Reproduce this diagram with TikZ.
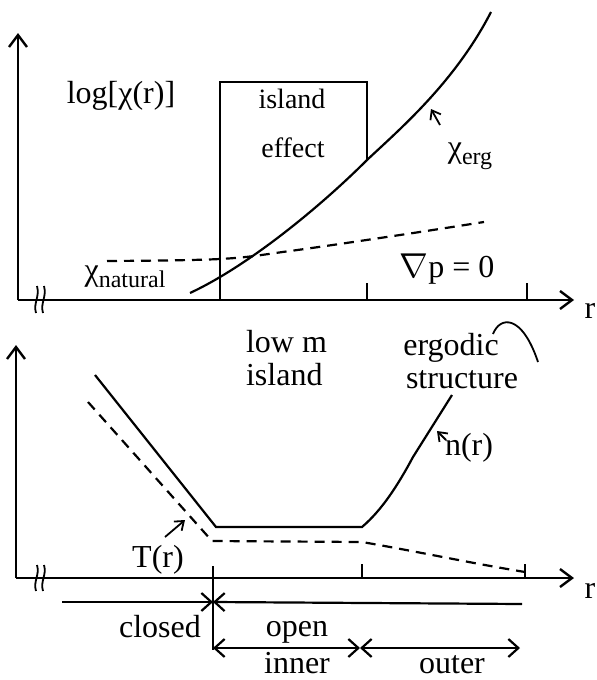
\documentclass[tikz,border=0pt]{standalone}
\usepackage{fontspec}
\setmainfont{Liberation Serif}
\usetikzlibrary{arrows.meta}
\newcommand\lsub[1]{\raisebox{-0.5ex}{\fontsize{12}{14}\selectfont #1}}
\begin{document}
\begin{tikzpicture}[x=0.5pt,y=-0.5pt,line width=1.1pt,
  axis/.style={line width=1.2pt,-{Straight Barb[length=6pt,width=9pt]}},
  curve/.style={line width=1.1pt},
  dashcurve/.style={line width=1.1pt,dash pattern=on 5pt off 3.5pt},
  pointer/.style={line width=0.9pt,-{Straight Barb[length=4pt,width=6pt]}},
  barb/.style={line width=1.1pt,arrows={-Straight Barb[length=5pt,width=9pt]}},
  every node/.style={font=\fontsize{16}{19}\selectfont,inner sep=0pt}]
 \useasboundingbox (0,0) rectangle (596,680);
 % upper panel: chi(r)
 \coordinate (o1) at (18,300);
 \draw[axis] (o1) -- (18,33);
 \draw[axis] (o1) -- (574,300);
 \foreach \x in {36,43} \draw[line width=0.9pt] (\x,313) .. controls (\x-3,303) and (\x+4,297) .. (\x+1,286);
 \foreach \x in {367,527} \draw (\x,300) -- (\x,283);
 \draw[curve] (220,300) -- (220,82) -- (367,82) -- (367,160);
 \draw[curve] (190,293) .. controls (250,265) and (322,205) .. (367,160)
   .. controls (400,129) and (455,82) .. (491,12);
 \draw[dashcurve] plot[smooth,tension=0.6] coordinates {(107,261) (220,259) (290,251) (400,235) (484,222)};
 \node[anchor=base] (loglab) at (121,103) {log[χ(r)]};
 \node[anchor=base,font=\fontsize{14}{16}\selectfont] (isl) at (292,108) {island};
 \node[anchor=base,font=\fontsize{14}{16}\selectfont] (eff) at (293,157) {effect};
 \node[anchor=base] (erglab) at (470,157) {χ\lsub{erg}};
 \node[anchor=base] (natlab) at (125,280) {χ\lsub{natural}};
 \node[anchor=base] (gradlab) at (447,277) {$\nabla$p = 0};
 \node[anchor=base] (r1) at (590,318) {r};
 \coordinate (ergtail) at (440,125);
 \coordinate (ergtip) at (431,109);
 \draw[pointer] (ergtail) -- (ergtip);
 % lower panel: n(r), T(r)
 \coordinate (o2) at (16,578);
 \draw[axis] (o2) -- (16,345);
 \draw[axis] (o2) -- (574,578);
 \foreach \x in {36,43} \draw[line width=0.9pt] (\x,591) .. controls (\x-3,581) and (\x+4,575) .. (\x+1,565);
 \foreach \x in {362,525} \draw (\x,578) -- (\x,564);
 \draw (213,566) -- (213,650);
 \draw[curve] (95,375) -- (216,527) -- (362,527) .. controls (382,510) and (398,485) .. (413,457) -- (452,395);
 \draw[dashcurve] (88,402) -- (212,541) -- (362,542) .. controls (420,552) and (470,563) .. (525,572);
 \draw[line width=0.9pt] (493,334) .. controls (500,316) and (522,314) .. (538,362);
 \node[anchor=base west] (lowm) at (245,352) {low m};
 \node[anchor=base west] (lowisl) at (245,385) {island};
 \node[anchor=base] (ergo) at (451,355) {ergodic};
 \node[anchor=base] (struc) at (462,388) {structure};
 \node[anchor=base] (nlab) at (469,455) {n(r)};
 \node[anchor=base] (tlab) at (158,567) {T(r)};
 \node[anchor=base] (r2) at (590,598) {r};
 \coordinate (ntail) at (446,440);
 \coordinate (ntip) at (437,431);
 \draw[pointer] (ntail) -- (ntip);
 \coordinate (ttail) at (165,537);
 \coordinate (ttip) at (185,520);
 \draw[pointer] (ttail) -- (ttip);
 % regions
 \coordinate (clL) at (62,602);
 \coordinate (div) at (213,602);
 \coordinate (opR) at (522,604);
 \coordinate (inL) at (213,648);
 \coordinate (mid) at (360,648);
 \coordinate (outR) at (520,648);
 \draw[barb] (clL) -- (div);
 \draw[barb] (opR) -- (div);
 \draw[barb,arrows={Straight Barb[length=5pt,width=9pt]-Straight Barb[length=5pt,width=9pt]}] (inL) -- (mid);
 \draw[barb,arrows={Straight Barb[length=5pt,width=9pt]-Straight Barb[length=5pt,width=9pt]}] (mid) -- (outR);
 \node[anchor=base] (closed) at (160,637) {closed};
 \node[anchor=base] (open) at (297,636) {open};
 \node[anchor=base] (inner) at (297,673) {inner};
 \node[anchor=base] (outer) at (452,673) {outer};
\end{tikzpicture}
\end{document}
